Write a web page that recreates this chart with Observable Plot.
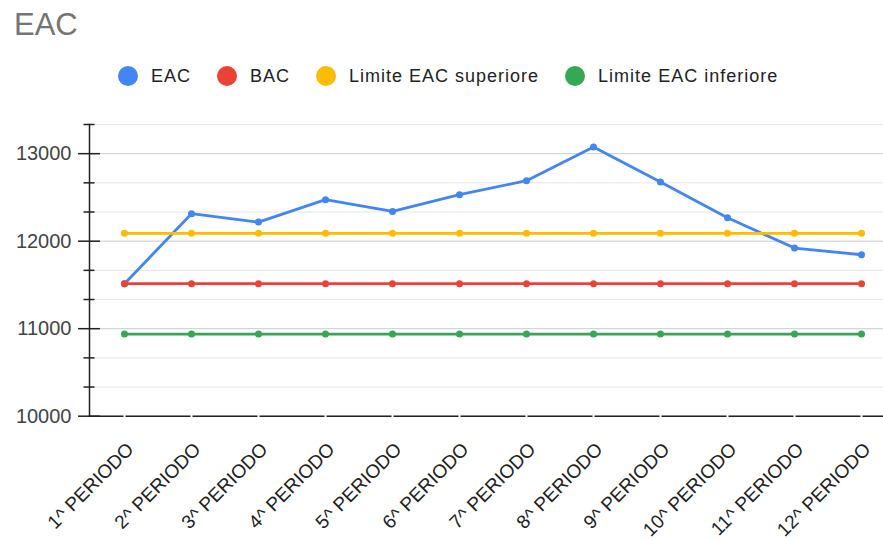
<!DOCTYPE html>
<html><head><meta charset="utf-8">
<script src="https://cdn.jsdelivr.net/npm/d3@7"></script>
<script src="https://cdn.jsdelivr.net/npm/@observablehq/plot@0.6"></script>
<style>
body{margin:0;background:#fff;font-family:"Liberation Sans",Arial,sans-serif;}
#wrap{position:relative;width:883px;height:540px;overflow:hidden;}
#chart{position:absolute;left:0;top:0;}
#title{position:absolute;left:14px;top:9px;font-size:31px;line-height:1;color:#757575;}
#legend{position:absolute;left:118px;top:66px;display:flex;align-items:center;font-size:18px;line-height:1;color:#222;letter-spacing:1px;}
.item{display:flex;align-items:center;margin-right:26px;}
.sw{width:20px;height:20px;border-radius:50%;margin-right:13px;}
</style></head><body>
<div id="wrap"><div id="chart"></div><div id="title">EAC</div><div id="legend"></div></div>
<script>
const periods = ["1^ PERIODO","2^ PERIODO","3^ PERIODO","4^ PERIODO","5^ PERIODO","6^ PERIODO","7^ PERIODO","8^ PERIODO","9^ PERIODO","10^ PERIODO","11^ PERIODO","12^ PERIODO"];
const seriesNames = ["EAC","BAC","Limite EAC superiore","Limite EAC inferiore"];
const seriesColors = ["#4285F4","#EA4335","#FBBC04","#34A853"];
const eac = [11514, 12314, 12218, 12474, 12340, 12531, 12691, 13075, 12675, 12268, 11921, 11845];
const bac = [11514, 11514, 11514, 11514, 11514, 11514, 11514, 11514, 11514, 11514, 11514, 11514];
const limiteSup = [12090, 12090, 12090, 12090, 12090, 12090, 12090, 12090, 12090, 12090, 12090, 12090];
const limiteInf = [10938, 10938, 10938, 10938, 10938, 10938, 10938, 10938, 10938, 10938, 10938, 10938];
const yDomain = [10000, 13333.33];
const yMajorTicks = [10000, 11000, 12000, 13000];
const yMinorTicks = [10333.33, 10666.67, 11333.33, 11666.67, 12333.33, 12666.67, 13333.33];

const seriesValues = [eac, bac, limiteSup, limiteInf];
const rows = seriesNames.flatMap((s, i) => periods.map((p, j) => ({series: s, period: p, value: seriesValues[i][j]})));

const seriesMarks = seriesNames.flatMap((s, i) => {
  const d = rows.filter(r => r.series === s);
  return [
    Plot.line(d, {x: "period", y: "value", stroke: seriesColors[i], strokeWidth: 2.8}),
    Plot.dot(d, {x: "period", y: "value", fill: seriesColors[i], r: 3.5})
  ];
});

const chart = Plot.plot({
  width: 883, height: 540,
  marginTop: 124, marginBottom: 124.3, marginLeft: 89, marginRight: 0,
  style: {fontFamily: "'Liberation Sans', Arial, sans-serif", background: "white"},
  x: {type: "point", domain: periods, padding: 0.417, align: 0.607, axis: null, label: null},
  y: {domain: yDomain, axis: null, label: null},
  marks: [
    Plot.gridY(yMinorTicks, {stroke: "#e6e6e6", strokeOpacity: 1}),
    Plot.gridY(yMajorTicks, {stroke: "#cccccc", strokeOpacity: 1}),
    Plot.axisY(yMajorTicks, {label: null, tickSize: 0, tickPadding: 18, tickFormat: d => String(d), fontSize: 20, color: "#444"}),
    Plot.axisY(yMajorTicks, {label: null, tickSize: 22, dx: 11, tickFormat: () => "", stroke: "#222", strokeWidth: 1.5}),
    Plot.axisY(yMinorTicks, {label: null, tickSize: 11, dx: 5.5, tickFormat: () => "", stroke: "#222", strokeWidth: 1.5}),
    Plot.frame({anchor: "left", stroke: "#222", strokeWidth: 1.5}),
    Plot.frame({anchor: "bottom", stroke: "#222", strokeWidth: 1.5}),
    Plot.ruleX(periods, {x: d => d, y1: 9975, y2: 10025, stroke: "white", strokeWidth: 2}),
    Plot.axisX({label: null, tickRotate: -45, tickSize: 0, tickPadding: 14, dx: 6, dy: 16, fontSize: 19, color: "#222"}),
    ...seriesMarks
  ]
});
document.getElementById("chart").appendChild(chart);

const legend = document.getElementById("legend");
seriesNames.forEach((s, i) => {
  const it = document.createElement("div"); it.className = "item";
  const sw = document.createElement("div"); sw.className = "sw"; sw.style.background = seriesColors[i];
  const t = document.createElement("span"); t.textContent = s;
  it.appendChild(sw); it.appendChild(t); legend.appendChild(it);
});
</script>
</body></html>
